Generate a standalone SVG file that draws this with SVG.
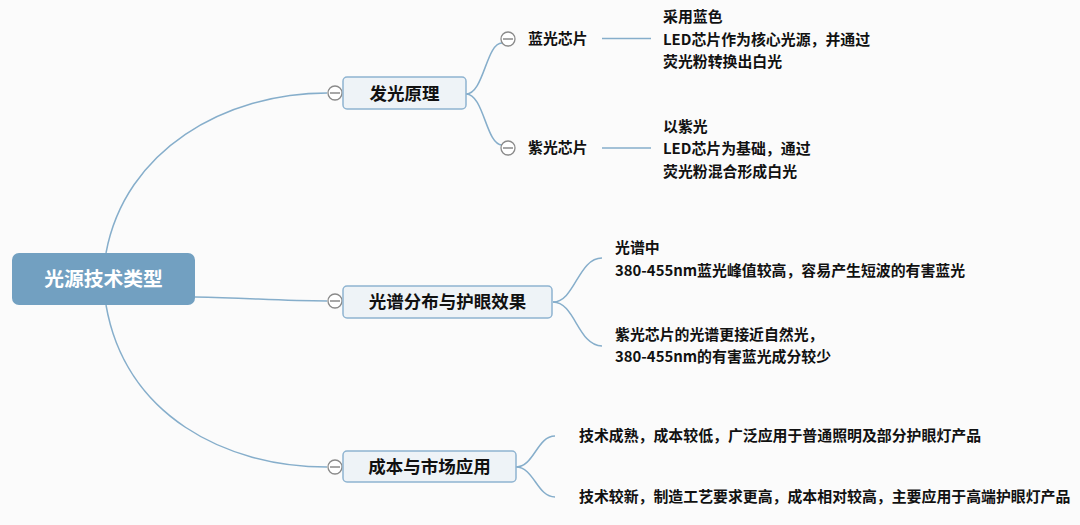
<svg xmlns="http://www.w3.org/2000/svg" width="1080" height="525" viewBox="0 0 1080 525">
<style>
.bg{fill:#fbfbfb}
.conn{fill:none;stroke:#86aecb;stroke-width:1.5}
.root{fill:#72a0c1}
.rt{font-family:"Noto Sans CJK SC",sans-serif;font-weight:bold;font-size:19.8px;fill:#ffffff}
.box{fill:#eef3f7;stroke:#8fb4d1;stroke-width:1.5}
.bt{font-family:"Noto Sans CJK SC",sans-serif;font-weight:bold;font-size:17.5px;fill:#111111}
.t{font-family:"Noto Sans CJK SC",sans-serif;font-weight:bold;font-size:14.9px;fill:#111111}
.cc{fill:#ffffff;stroke:#8a8a8a;stroke-width:1.3}
.cl{stroke:#8a8a8a;stroke-width:1.5}
</style>
<rect class="bg" x="0" y="0" width="1080" height="525"/>
<g id="connectors">
<path class="conn" d="M106,253 C125,150 225,93 327,93"/>
<path class="conn" d="M195,297 C250,298 280,301 327,301"/>
<path class="conn" d="M106,305 C125,415 225,467 327,467"/>
<path class="conn" d="M466,94 C484,94 486,43 502,43"/>
<path class="conn" d="M466,94 C484,94 486,145 502,145"/>
<path class="conn" d="M602,38.5 L651,38.5"/>
<path class="conn" d="M602,148 L651,148"/>
<path class="conn" d="M553,302 C575,302 578,258 602,258"/>
<path class="conn" d="M553,302 C575,302 578,346 602,346"/>
<path class="conn" d="M516,467 C534,467 537,436 555,436"/>
<path class="conn" d="M516,467 C534,467 537,497 555,497"/>
</g>
<g id="root">
<rect class="root" x="12" y="253" width="183" height="52" rx="7"/>
<text class="rt" x="103.5" y="286" text-anchor="middle">光源技术类型</text>
</g>
<g id="n1">
<circle class="cc" cx="335" cy="93" r="7"/><line class="cl" x1="330" y1="93" x2="340" y2="93"/>
<rect class="box" x="343" y="77" width="123" height="32" rx="4"/>
<text class="bt" x="404.5" y="99.5" text-anchor="middle">发光原理</text>
</g>
<g id="n1a">
<circle class="cc" cx="508" cy="39" r="7"/><line class="cl" x1="503" y1="39" x2="513" y2="39"/>
<text class="t" x="528" y="44">蓝光芯片</text>
</g>
<g id="n1a1">
<text class="t" x="663" y="22">采用蓝色</text>
<text class="t" x="663" y="45">LED芯片作为核心光源，并通过</text>
<text class="t" x="663" y="67">荧光粉转换出白光</text>
</g>
<g id="n1b">
<circle class="cc" cx="508" cy="148" r="7"/><line class="cl" x1="503" y1="148" x2="513" y2="148"/>
<text class="t" x="528" y="153">紫光芯片</text>
</g>
<g id="n1b1">
<text class="t" x="663" y="132">以紫光</text>
<text class="t" x="663" y="154">LED芯片为基础，通过</text>
<text class="t" x="663" y="177">荧光粉混合形成白光</text>
</g>
<g id="n2">
<circle class="cc" cx="335" cy="301" r="7"/><line class="cl" x1="330" y1="301" x2="340" y2="301"/>
<rect class="box" x="343" y="286" width="209" height="32" rx="4"/>
<text class="bt" x="447.5" y="308" text-anchor="middle">光谱分布与护眼效果</text>
</g>
<g id="n2a">
<text class="t" x="615" y="253">光谱中</text>
<text class="t" x="615" y="276">380-455nm蓝光峰值较高，容易产生短波的有害蓝光</text>
</g>
<g id="n2b">
<text class="t" x="615" y="340">紫光芯片的光谱更接近自然光，</text>
<text class="t" x="615" y="362">380-455nm的有害蓝光成分较少</text>
</g>
<g id="n3">
<circle class="cc" cx="335" cy="467" r="7"/><line class="cl" x1="330" y1="467" x2="340" y2="467"/>
<rect class="box" x="343" y="451" width="173" height="31" rx="4"/>
<text class="bt" x="429.5" y="473" text-anchor="middle">成本与市场应用</text>
</g>
<g id="n3a">
<text class="t" x="579" y="441">技术成熟，成本较低，广泛应用于普通照明及部分护眼灯产品</text>
</g>
<g id="n3b">
<text class="t" x="579" y="502">技术较新，制造工艺要求更高，成本相对较高，主要应用于高端护眼灯产品</text>
</g>
</svg>
